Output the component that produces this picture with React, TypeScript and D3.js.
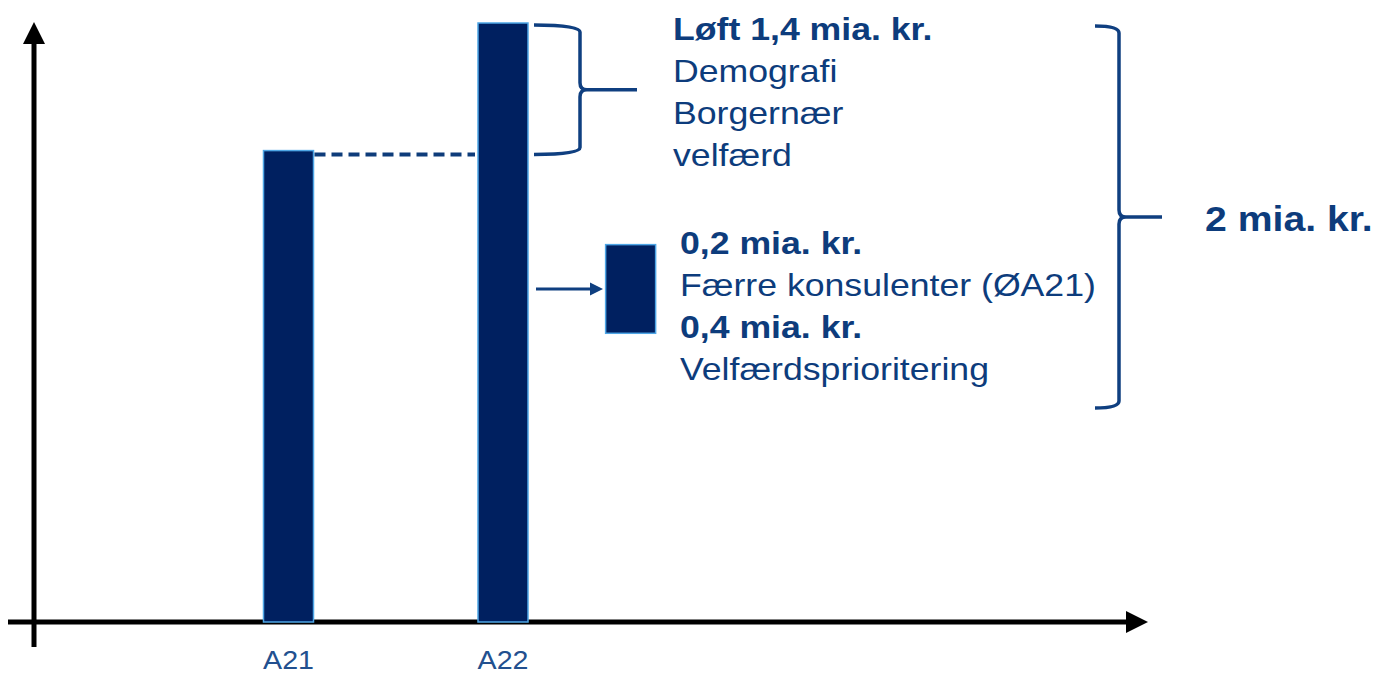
import { useEffect, useRef } from "react"
import * as d3 from "d3"

// data
const categories = ["A21", "A22"]
const barValues = [78.7, 100]
const reductionLow = 48.2
const reductionHigh = 63
const reductionPos = 2.595

const upliftLines = ["Løft 1,4 mia. kr.", "Demografi", "Borgernær", "velfærd"]
const upliftBold = [true, false, false, false]
const savingLines = ["0,2 mia. kr.", "Færre konsulenter (ØA21)", "0,4 mia. kr.", "Velfærdsprioritering"]
const savingBold = [true, false, true, false]
const totalLabel = "2 mia. kr."

const W = 1376, H = 675
const barColor = "#002060", barEdge = "#4ea6e6"
const textColor = "#0d3c7c", braceColor = "#0f3f80"
const font = "'Liberation Sans', Arial, sans-serif"

function brace(x0: number, y0: number, y1: number, xs: number, xt: number, r: number) {
    const ym = (y0 + y1) / 2
    return `M${x0},${y0} Q${xs},${y0} ${xs},${y0 + r} L${xs},${ym - r} Q${xs},${ym} ${xs + r},${ym} L${xt},${ym}` +
        ` M${xs + r},${ym} Q${xs},${ym} ${xs},${ym + r} L${xs},${y1 - r} Q${xs},${y1} ${x0},${y1}`
}

export default function App() {
    const ref = useRef<SVGSVGElement>(null)

    useEffect(() => {
        const svg = d3.select(ref.current)
        svg.selectAll("*").remove()

        const x = d3.scaleLinear().domain([1, 2]).range([288.5, 503])
        const y = d3.scaleLinear().domain([0, 100]).range([622, 23])
        const bw = 50

        const defs = svg.append("defs")
        defs.append("marker")
            .attr("id", "axisHead")
            .attr("viewBox", "0 0 10 10")
            .attr("refX", 0).attr("refY", 5)
            .attr("markerUnits", "userSpaceOnUse")
            .attr("markerWidth", 22).attr("markerHeight", 22)
            .attr("orient", "auto")
            .append("path").attr("d", "M0,0 L10,5 L0,10 Z").attr("fill", "#000")
        defs.append("marker")
            .attr("id", "smallHead")
            .attr("viewBox", "0 0 10 10")
            .attr("refX", 0).attr("refY", 5)
            .attr("markerUnits", "userSpaceOnUse")
            .attr("markerWidth", 13).attr("markerHeight", 14)
            .attr("orient", "auto")
            .append("path").attr("d", "M0,0 L10,5 L0,10 Z").attr("fill", braceColor)

        // axes
        svg.append("line")
            .attr("x1", 34).attr("y1", 647).attr("x2", 34).attr("y2", 44)
            .attr("stroke", "#000").attr("stroke-width", 5)
            .attr("marker-end", "url(#axisHead)")
        svg.append("line")
            .attr("x1", 8).attr("y1", y(0)).attr("x2", 1126).attr("y2", y(0))
            .attr("stroke", "#000").attr("stroke-width", 5)
            .attr("marker-end", "url(#axisHead)")

        // bars
        svg.selectAll(".bar")
            .data(barValues)
            .join("rect")
            .attr("class", "bar")
            .attr("x", (d, i) => x(i + 1) - bw / 2)
            .attr("y", d => y(d))
            .attr("width", bw)
            .attr("height", d => y(0) - y(d))
            .attr("fill", barColor)
            .attr("stroke", barEdge)
            .attr("stroke-width", 1.5)

        svg.selectAll(".tick-label")
            .data(categories)
            .join("text")
            .attr("class", "tick-label")
            .attr("transform", (d, i) => `translate(${x(i + 1)},669) scale(1.1,1)`)
            .attr("text-anchor", "middle")
            .attr("font-family", font)
            .attr("font-size", 26)
            .attr("fill", "#22508f")
            .text(d => d)

        // dashed connector from A21 level to A22
        const dashY = y(barValues[0]) + 4
        svg.append("line")
            .attr("x1", x(1) + bw / 2 + 1).attr("y1", dashY)
            .attr("x2", x(2) - bw / 2 - 3).attr("y2", dashY)
            .attr("stroke", "#0e3c7a").attr("stroke-width", 4)
            .attr("stroke-dasharray", "11 6")

        // brace for uplift
        svg.append("path")
            .attr("d", brace(x(2) + bw / 2 + 6, y(barValues[1]) + 2, dashY, 580, 637, 7))
            .attr("fill", "none").attr("stroke", braceColor).attr("stroke-width", 3.5)

        // arrow and reduction bar
        const redMid = (y(reductionLow) + y(reductionHigh)) / 2
        svg.append("line")
            .attr("x1", 536).attr("y1", redMid).attr("x2", 590).attr("y2", redMid)
            .attr("stroke", braceColor).attr("stroke-width", 3)
            .attr("marker-end", "url(#smallHead)")
        svg.append("rect")
            .attr("x", x(reductionPos) - bw / 2)
            .attr("y", y(reductionHigh))
            .attr("width", bw)
            .attr("height", y(reductionLow) - y(reductionHigh))
            .attr("fill", barColor)
            .attr("stroke", barEdge)
            .attr("stroke-width", 1.5)

        // big brace
        svg.append("path")
            .attr("d", brace(1095, 26, 408, 1119, 1162, 7))
            .attr("fill", "none").attr("stroke", braceColor).attr("stroke-width", 3.5)

        const addLines = (lines: string[], bold: boolean[], x0: number, y0: number, step: number) => {
            svg.append("g")
                .selectAll("text")
                .data(lines)
                .join("text")
                .attr("transform", (d, i) => `translate(${x0},${y0 + i * step}) scale(1.15,1)`)
                .attr("font-family", font)
                .attr("font-size", 31)
                .attr("font-weight", (d, i) => bold[i] ? "bold" : "normal")
                .attr("fill", textColor)
                .text(d => d)
        }
        addLines(upliftLines, upliftBold, 673, 40, 42)
        addLines(savingLines, savingBold, 680, 254, 42)

        svg.append("text")
            .attr("transform", "translate(1205,231) scale(1.12,1)")
            .attr("font-family", font)
            .attr("font-size", 35)
            .attr("font-weight", "bold")
            .attr("fill", textColor)
            .text(totalLabel)
    }, [])

    return (
        <svg ref={ref} width={W} height={H}
            style={{ position: "absolute", left: 0, top: 0, background: "#fff" }} />
    )
}
